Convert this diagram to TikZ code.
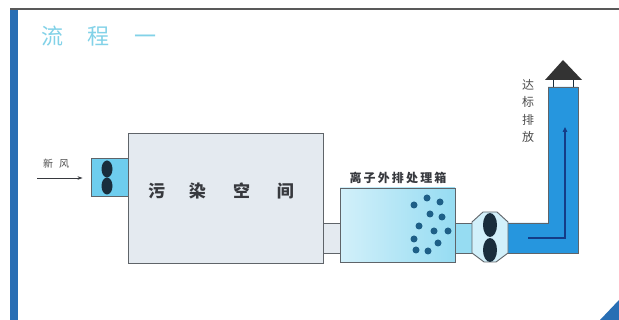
\documentclass[tikz,border=0pt]{standalone}
\usepackage{fontspec}
\newfontfamily\cjk{Noto Sans CJK SC}
\newfontfamily\cjkspread[LetterSpace=18]{Noto Sans CJK SC}
\usetikzlibrary{arrows.meta}
\definecolor{edge}{RGB}{95,100,105}
\definecolor{roomfill}{RGB}{228,234,240}
\definecolor{fanfill}{RGB}{110,205,238}
\definecolor{ionleft}{RGB}{210,240,250}
\definecolor{ionright}{RGB}{150,220,242}
\definecolor{pipeblue}{RGB}{38,150,222}
\definecolor{blob}{RGB}{25,45,60}
\definecolor{ion}{RGB}{30,95,135}
\definecolor{flow}{RGB}{20,60,135}
\definecolor{frame}{RGB}{40,110,180}
\definecolor{titlecol}{RGB}{130,210,232}
\definecolor{label}{RGB}{55,57,62}
\tikzset{
  box/.style={draw=edge, line width=0.9pt, minimum width=#1, inner sep=0pt},
  pipe/.style={draw=edge, line width=0.9pt},
  fanblob/.style={fill=blob, draw=none},
  iondot/.style={circle, fill=ion, minimum size=7pt, inner sep=0pt},
  txt/.style={text=label, inner sep=0pt},
}
\begin{document}
\begin{tikzpicture}[x=1pt, y=-1pt]
\useasboundingbox (0,0) rectangle (619,320);
\fill[white] (0,0) rectangle (619,320);

% page frame
\fill[frame] (10,9) rectangle (18,320);
\draw[line width=2pt, color=black!65] (10,9) -- (619,9);
\fill[frame] (600,320) -- (619,300) -- (619,320) -- cycle;

% title
\node[text=titlecol, font=\cjk\fontsize{22}{22}\selectfont, inner sep=0pt] (title) at (99,36)
  {流\hspace{25pt}程\hspace{25pt}一};

% connecting ducts (behind the boxes)
\filldraw[pipe, fill=roomfill] (320,223) rectangle (343,253);
\filldraw[pipe, fill=ionright] (453,223) rectangle (474,253);

% blue exhaust stack
\filldraw[pipe, fill=pipeblue] (506,223) -- (548,223) -- (548,87) -- (578,87)
  -- (578,253) -- (506,253) -- cycle;

% fresh air fan
\node[box=39pt, minimum height=38pt, fill=fanfill] (fan1) at (110.5,177) {};
\fill[fanblob] (107,169) ellipse (5.5pt and 8.5pt);
\fill[fanblob] (107,186) ellipse (5.5pt and 8.5pt);

% polluted room
\node[box=195pt, minimum height=130pt, fill=roomfill] (room) at (225.5,198) {};
\node[txt, font=\cjk\bfseries\fontsize{17}{17}\selectfont] (roomlabel) at (221,191)
  {污\hspace{24pt}染\hspace{27pt}空\hspace{27pt}间};

% ion treatment box
\node[box=115pt, minimum height=74pt, left color=ionleft, right color=ionright,
      draw=edge] (ionbox) at (397.5,225) {};
\node[txt, font=\cjkspread\bfseries\fontsize{12}{12}\selectfont] (ionlabel) at (398,178)
  {离子外排处理箱};
\foreach \px/\py [count=\i] in {414/205, 427/198, 440/202, 430/214, 442/217,
    419/226, 434/231, 448/231, 414/239, 438/243, 416/250, 428/251}
  \node[iondot] (ion\i) at (\px,\py) {};

% exhaust fan
\node[inner sep=0pt, minimum size=0pt] (fan2) at (490,237) {};
\filldraw[pipe, fill=ionleft] (472,222) -- (483,212) -- (497,212) -- (508,222)
  -- (508,253) -- (496,262) -- (484,262) -- (472,253) -- cycle;
\fill[fanblob] (490,225) ellipse (7pt and 12pt);
\fill[fanblob] (490,250) ellipse (7pt and 12pt);

% chimney cap
\node[inner sep=0pt] (cap) at (563,72) {};
\draw[line width=1pt, color=blob] (553,80) -- (553,87) (573,80) -- (573,87);
\fill[color=black!80] (545,80) -- (563,60) -- (582,80) -- cycle;

% air flow inside the stack
\coordinate (flowstart) at (528,238);
\coordinate (flowturn) at (565,238);
\coordinate (flowend) at (565,127);
\draw[flow, line width=1.2pt, -{Triangle[length=5pt, width=4.5pt]}]
  (flowstart) -- (flowturn) -- (flowend);

\node[txt, text=black!70, font=\cjk\fontsize{12}{17.5}\selectfont, align=center] (stacklabel) at (528,111)
  {达\\标\\排\\放};

% fresh air inlet
\node[txt, text=black!70, font=\cjk\fontsize{10}{10}\selectfont] (inletlabel) at (56,164) {新\hspace{6pt}风};
\coordinate (inlet) at (37,178);
\draw[color=label, line width=0.7pt, -{Stealth[length=5pt, width=3.5pt]}, shorten >=8pt]
  (inlet) -- (inlet -| fan1.west);
\end{tikzpicture}
\end{document}
